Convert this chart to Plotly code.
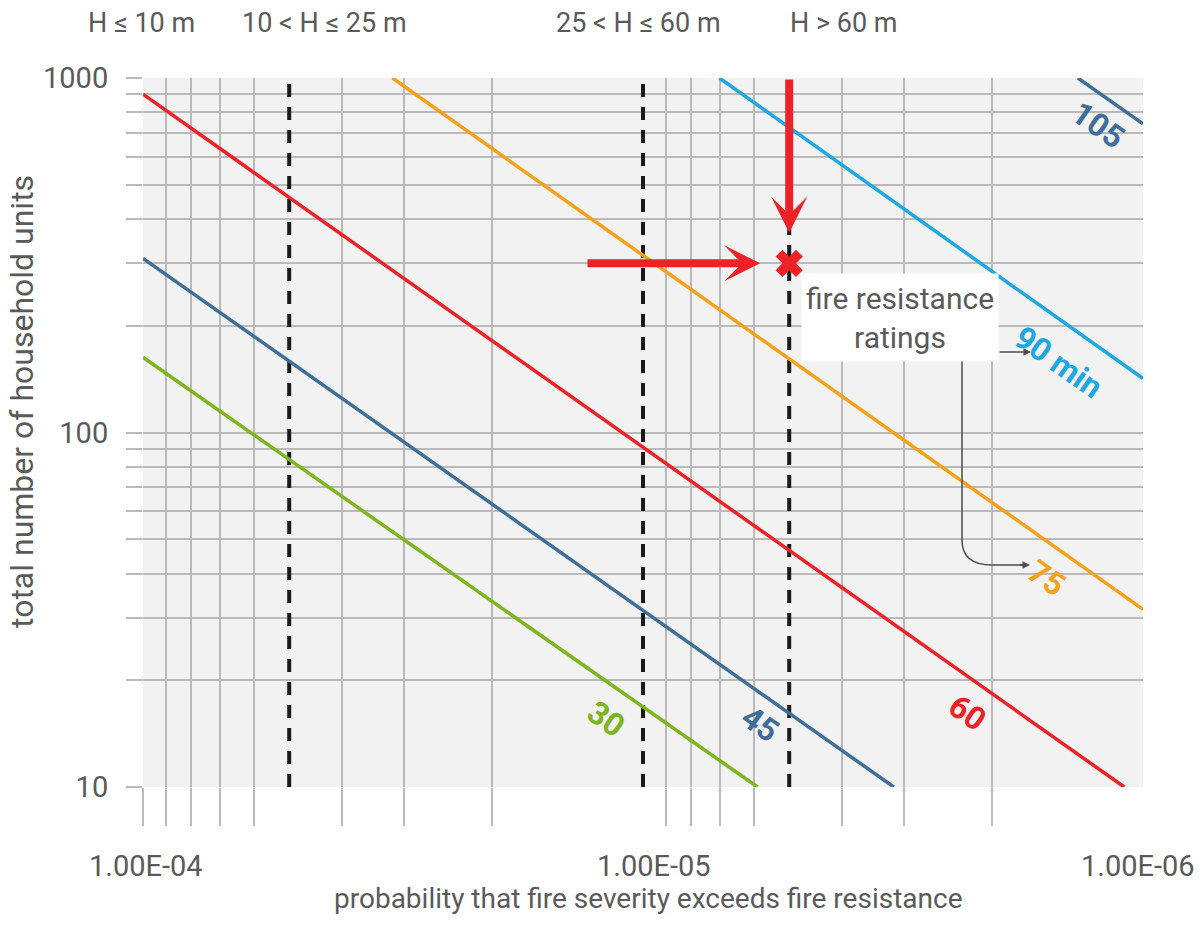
import numpy as np
import plotly.graph_objects as go

# ---------------- data ----------------
rating_names = ["30", "45", "60", "75", "90 min", "105"]
rating_colors = ["#7db51f", "#3f6e98", "#ec2227", "#f7a11a", "#1ea7e1", "#3f6e98"]
start_prob = [1e-4, 1e-4, 1e-4, 3.17e-5, 7.03e-6, 1.35e-6]
start_units = [163, 310, 900, 1000, 1000, 1000]
end_prob = [5.9e-6, 3.15e-6, 1.09e-6, 1e-6, 1e-6, 1e-6]
end_units = [10, 10, 10, 31.7, 142, 742]
label_prob = [1.184e-5, 5.83e-6, 2.24e-6, 1.56e-6, 1.477e-6, 1.229e-6]
label_units = [15.6, 15.1, 16.2, 38.8, 157.8, 739]

height_bounds = [5.1e-5, 1e-5, 5.1e-6]
height_labels = ["H ≤ 10 m", "10 < H ≤ 25 m", "25 < H ≤ 60 m", "H > 60 m"]

example_prob = 5.1e-6
example_units = 300
arrow_from_prob = 1.30e-5
arrow_tip_prob = 5.83e-6
arrow_top_units = 1000
arrow_tip_units = 366

x_tick_vals = [1e-4, 9e-5, 8e-5, 7e-5, 6e-5, 4e-5, 3e-5, 2e-5,
               9e-6, 8e-6, 7e-6, 6e-6, 4e-6, 3e-6, 2e-6]
x_tick_labels = ["1.00E-04", "1.00E-05", "1.00E-06"]
y_tick_vals = [10, 20, 30, 40, 50, 60, 70, 80, 90,
               100, 200, 300, 400, 500, 600, 700, 800, 900, 1000]
y_tick_text = [str(v) if v in (10, 100, 1000) else "" for v in y_tick_vals]

x_title = "probability that fire severity exceeds fire resistance"
y_title = "total number of household units"
box_text = "fire resistance<br>ratings"

# ---------------- styling ----------------
FONT = "Roboto, Liberation Sans, sans-serif"
TXT = "#5a5a5a"
GRID = "#bababa"
RED = "#ec2227"

fig = go.Figure()

# dashed height-class boundaries
for b in height_bounds:
    fig.add_trace(go.Scatter(x=[b, b], y=[10, 1000], mode="lines",
                             line=dict(color="#1a1a1a", width=4, dash="13px,10px"),
                             hoverinfo="skip", showlegend=False))

# fire resistance rating lines
for i, name in enumerate(rating_names):
    fig.add_trace(go.Scatter(x=[start_prob[i], end_prob[i]],
                             y=[start_units[i], end_units[i]],
                             mode="lines", line=dict(color=rating_colors[i], width=3.5),
                             name=name, showlegend=False, hoverinfo="skip"))

# example point
fig.add_trace(go.Scatter(x=[example_prob], y=[example_units], mode="markers",
                         marker=dict(symbol="x", size=24, color=RED, line=dict(width=0)),
                         showlegend=False, hoverinfo="skip"))

annotations = []

# rating labels on lines
for i, name in enumerate(rating_names):
    annotations.append(dict(x=np.log10(label_prob[i]), y=np.log10(label_units[i]),
                            xref="x", yref="y", text="<b>%s</b>" % name, showarrow=False,
                            textangle=35, font=dict(family=FONT, size=32, color=rating_colors[i])))

# red arrows
annotations.append(dict(x=np.log10(arrow_tip_prob), y=np.log10(example_units),
                        ax=np.log10(arrow_from_prob), ay=np.log10(example_units),
                        xref="x", yref="y", axref="x", ayref="y", text="",
                        showarrow=True, arrowhead=3, arrowsize=0.75, arrowwidth=8,
                        arrowcolor=RED))
annotations.append(dict(x=np.log10(example_prob), y=np.log10(arrow_tip_units),
                        ax=np.log10(example_prob), ay=np.log10(arrow_top_units),
                        xref="x", yref="y", axref="x", ayref="y", text="",
                        showarrow=True, arrowhead=3, arrowsize=0.75, arrowwidth=8,
                        arrowcolor=RED))

# fire resistance ratings box
annotations.append(dict(x=np.log10(3.06e-6), y=np.log10(211), xref="x", yref="y",
                        text=box_text, showarrow=False, bgcolor="white",
                        width=194, height=85, align="center",
                        font=dict(family=FONT, size=30, color=TXT)))
# connector to "90 min"
annotations.append(dict(x=0.888, y=0.6135, xref="paper", yref="paper",
                        ax=-33, ay=0, text="", showarrow=True, arrowhead=2,
                        arrowsize=1, arrowwidth=1.5, arrowcolor="#4d4d4d"))
# connector end to "75"
annotations.append(dict(x=0.887, y=0.3131, xref="paper", yref="paper",
                        ax=-12, ay=0, text="", showarrow=True, arrowhead=2,
                        arrowsize=1, arrowwidth=1.5, arrowcolor="#4d4d4d"))

# height class labels above plot
for xp, t in zip([-0.0011, 0.1818, 0.4953, 0.7008], height_labels):
    annotations.append(dict(x=xp, y=1.078, xref="paper", yref="paper", text=t,
                            showarrow=False, xanchor="center", yanchor="middle",
                            font=dict(family=FONT, size=27, color=TXT)))

# x tick labels
for xp, t in zip([0.0025, 0.5105, 0.995], x_tick_labels):
    annotations.append(dict(x=xp, y=-0.1113, xref="paper", yref="paper", text=t,
                            showarrow=False, xanchor="center", yanchor="middle",
                            font=dict(family=FONT, size=29, color=TXT)))

# axis titles
annotations.append(dict(x=0.505, y=-0.157, xref="paper", yref="paper", text=x_title,
                        showarrow=False, xanchor="center", yanchor="middle",
                        font=dict(family=FONT, size=28, color=TXT)))
annotations.append(dict(x=-0.121, y=0.543, xref="paper", yref="paper", text=y_title,
                        showarrow=False, xanchor="center", yanchor="middle", textangle=-90,
                        font=dict(family=FONT, size=32, color=TXT)))

shapes = [dict(type="path", xref="paper", yref="paper",
               path="M 0.819 0.6008 L 0.819 0.3484 Q 0.819 0.3131 0.849 0.3131 L 0.880 0.3131",
               line=dict(color="#4d4d4d", width=1.5))]

fig.update_layout(
    width=1200, height=945,
    margin=dict(l=143, r=57, t=78, b=158),
    paper_bgcolor="white", plot_bgcolor="#f2f2f2",
    showlegend=False,
    annotations=annotations, shapes=shapes,
    xaxis=dict(type="log", range=[-4, -6], tickvals=x_tick_vals,
               showticklabels=False, ticks="outside", ticklen=38, tickwidth=2,
               tickcolor=GRID, showgrid=True, gridcolor=GRID, gridwidth=2,
               zeroline=False, showline=False, fixedrange=True),
    yaxis=dict(type="log", range=[1, 3], tickvals=y_tick_vals, ticktext=y_tick_text,
               ticks="outside", ticklen=16, tickwidth=2, tickcolor=GRID,
               ticklabelstandoff=12,
               tickfont=dict(family=FONT, size=29, color=TXT),
               showgrid=True, gridcolor=GRID, gridwidth=2,
               zeroline=False, showline=False, fixedrange=True),
)

fig.write_html("out.html")
